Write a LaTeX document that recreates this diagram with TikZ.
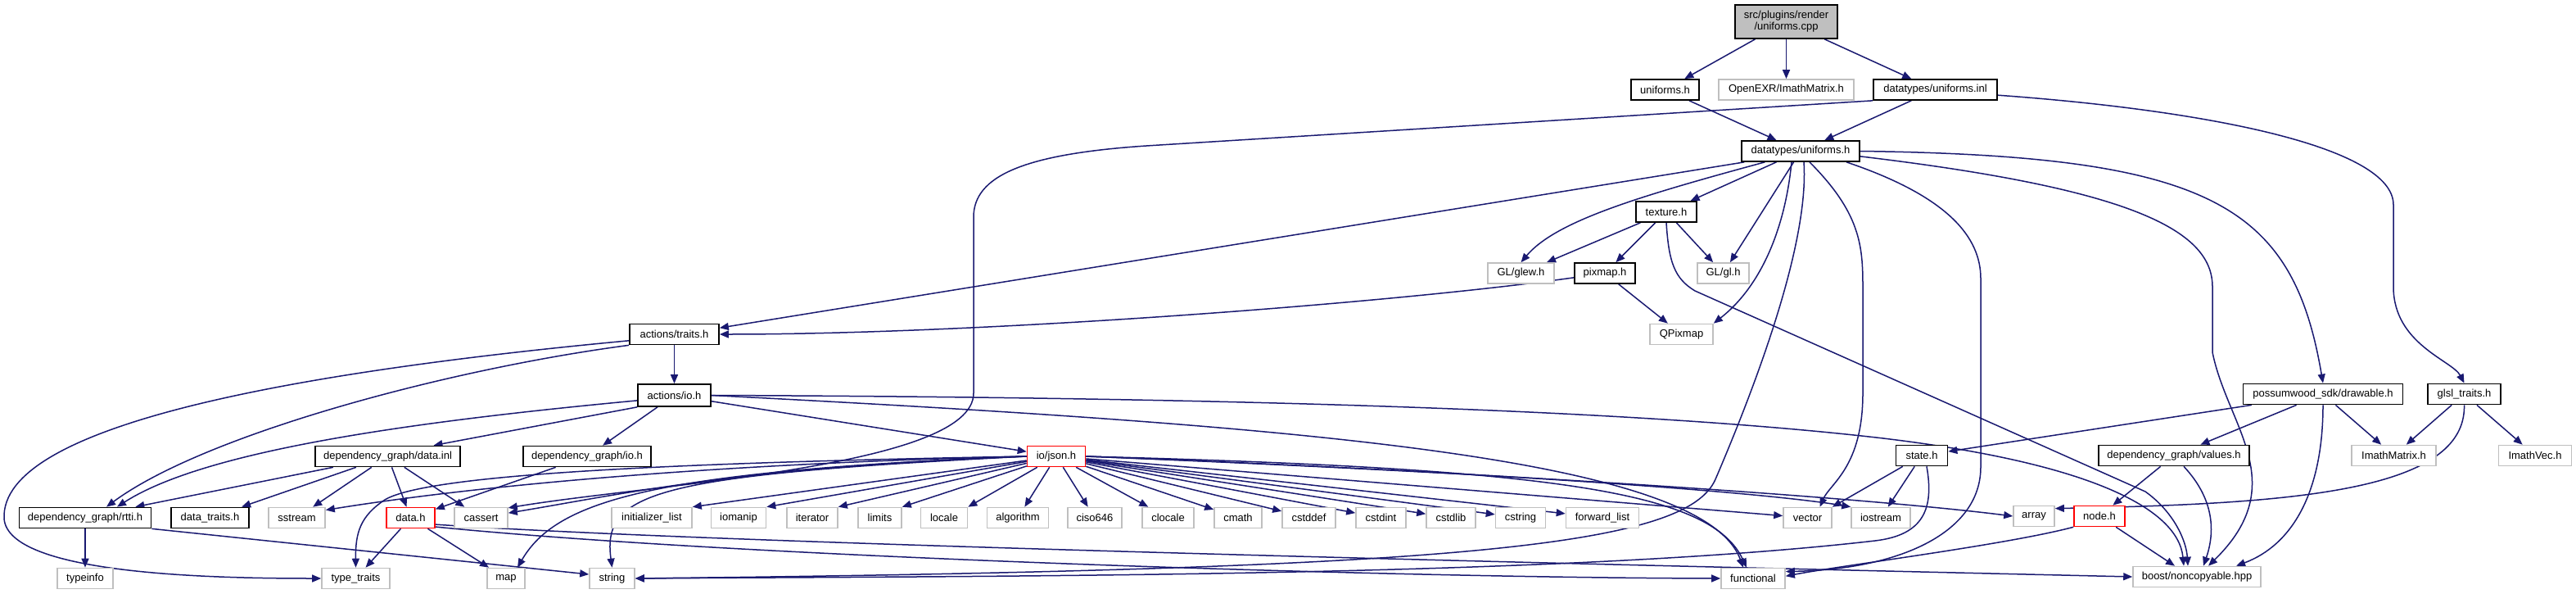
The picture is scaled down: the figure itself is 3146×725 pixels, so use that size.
\documentclass[tikz,border=0pt]{standalone}
\usepackage{fontspec}
\setmainfont{Liberation Sans}
\usetikzlibrary{arrows.meta, calc, backgrounds}
\definecolor{cedge}{HTML}{191970}
\definecolor{cgrey}{HTML}{BFBFBF}
\definecolor{cred}{HTML}{FF0000}
\tikzset{
  every picture/.style={font=\fontsize{13}{14}\selectfont, line width=1.4pt},
  file/.style={draw=#1, fill=white, line width=1.7pt, inner sep=0pt, minimum height=25pt, align=center},
  file/.default=black,
  dep/.style={-{Triangle[length=11pt, width=9pt]}, draw=cedge, line width=1.5pt},
}

\begin{document}
\begin{tikzpicture}[x=1pt, y=-1pt,
    sys/.style={file=cgrey, line width=1.6pt},
    trunc/.style={file=cred, line width=1.6pt}]
  \useasboundingbox (0,0) rectangle (3146,725);

  % ---- top of the graph
  \node[file, fill=cgrey, minimum width=125, minimum height=41] (root) at (2181.5,26.5) {src/plugins/render\\/uniforms.cpp};
  \node[file, minimum width=83] (uh) at (2033.5,109.5) {uniforms.h};
  \node[sys, minimum width=165] (imx) at (2181.5,109.5) {OpenEXR/ImathMatrix.h};
  \node[file, minimum width=151] (uinl) at (2363.5,109.5) {datatypes/uniforms.inl};
  \node[file, minimum width=144] (duh) at (2199,184.5) {datatypes/uniforms.h};
  \node[file, minimum width=74] (tex) at (2035,258.5) {texture.h};
  \node[sys, minimum width=81] (glew) at (1857.5,333.5) {GL/glew.h};
  \node[file, minimum width=74] (pixmap) at (1960,333.5) {pixmap.h};
  \node[sys, minimum width=63] (gl) at (2104.5,333.5) {GL/gl.h};
  \node[file, minimum width=109] (traits) at (823.5,408) {actions/traits.h};
  \node[sys, minimum width=77] (qpixmap) at (2053.5,408) {QPixmap};
  \node[file, minimum width=89, minimum height=27] (aio) at (823.5,482.5) {actions/io.h};
  \node[file, minimum width=195] (drawable) at (2837,481) {possumwood\_sdk/drawable.h};
  \node[file, minimum width=89] (glsl) at (3009.5,481) {glsl\_traits.h};

  % ---- middle row
  \node[file, minimum width=177] (datainl) at (473.5,557) {dependency\_graph/data.inl};
  \node[file, minimum width=156] (dgio) at (717,557) {dependency\_graph/io.h};
  \node[trunc, minimum width=71] (json) at (1290,557) {io/json.h};
  \node[file, minimum width=63] (state) at (2347,556) {state.h};
  \node[file, minimum width=184] (values) at (2655,556) {dependency\_graph/values.h};
  \node[sys, minimum width=103] (imathm) at (2923.5,556) {ImathMatrix.h};
  \node[sys, minimum width=89] (imathv) at (3096,556) {ImathVec.h};

  % ---- headers
  \node[file, minimum width=161] (rtti) at (104,632) {dependency\_graph/rtti.h};
  \node[file, minimum width=95] (dtraits) at (256.5,632) {data\_traits.h};
  \node[trunc, minimum width=59] (datah) at (501.5,632) {data.h};
  \node[trunc, minimum width=62] (nodeh) at (2564,630) {node.h};
  \node[sys, minimum width=50] (array) at (2484,630) {array};
  \foreach \n/\x/\w/\t in {sstream/362.5/69/sstream, cassert/587.5/65/cassert,
      initlist/796/98/{initializer\_list}, iomanip/902/67/iomanip, iterator/992/62/iterator,
      limits/1074.5/53/limits, locale/1153/57/locale, algorithm/1243/75/algorithm,
      ciso646/1337/66/ciso646, clocale/1426.5/63/clocale, cmath/1512/58/cmath,
      cstddef/1598.5/65/cstddef, cstdint/1686.5/61/cstdint, cstdlib/1772/60/cstdlib,
      cstring/1857/61/cstring, fwdlist/1957/89/{forward\_list}, vector/2207.5/59/vector,
      iostream/2297/72/iostream}
    { \node[sys, minimum width=\w] (\n) at (\x,632) {\t}; }
  \foreach \n/\x/\w/\t in {typeinfo/104/68/typeinfo, typetraits/434.5/83/{type\_traits},
      map/618/46/map, string/747.5/55/string, functional/2141/78/functional}
    { \node[sys, minimum width=\w] (\n) at (\x,706) {\t}; }
  \node[sys, minimum width=156] (boost) at (2683,704) {boost/noncopyable.hpp};

  \begin{scope}[on background layer]
  % ---- edges from the top files
  \draw[dep] (root) -- (uh);
  \draw[dep] (root) -- (imx);
  \draw[dep] (root) -- (uinl);
  \draw[dep] (uh) -- (duh);
  \draw[dep] (uinl) -- (duh);
  \draw[dep] (uinl.south west) -- (1400,178) .. controls (1250,188) and (1189,215) .. (1189,265)
    -- (1189,480) .. controls (1189,570) and (800,590) .. (cassert.20);
  \draw[dep] (uinl.-5) .. controls (2700,135) and (2923,180) .. (2923,250)
    -- (2923,350) .. controls (2923,420) and (2995,440) .. (glsl.north);

  % ---- datatypes/uniforms.h
  \draw[dep] (duh.191) -- (traits.8);
  \draw[dep] (duh.197) .. controls (2000,240) and (1900,270) .. (glew.north);
  \draw[dep] (duh) -- (tex);
  \draw[dep] (duh) -- (gl);
  \draw[dep] ([xshift=-11]duh.south) .. controls (2180,280) and (2150,350) .. (qpixmap.north east);
  \draw[dep] ([xshift=11]duh.south) .. controls (2272,260) and (2275,300) .. (2275,350)
    -- (2275,480) .. controls (2275,570) and (2235,590) .. ([xshift=15]vector.north);
  \draw[dep] ([xshift=4]duh.south) .. controls (2210,300) and (2140,480) .. (2095,585)
    .. controls (2060,665) and (1800,695) .. (string.east);
  \draw[dep] ([xshift=56]duh.south) .. controls (2380,240) and (2419,290) .. (2419,340)
    -- (2419,570) .. controls (2419,650) and (2320,695) .. (functional.12);
  \draw[dep] (duh.east) .. controls (2700,190) and (2800,250) .. (drawable.north);
  \draw[dep] (duh.-5) .. controls (2600,230) and (2702,280) .. (2702,350)
    -- (2702,430) .. controls (2720,520) and (2800,590) .. ([xshift=14]boost.north);

  % ---- texture.h, pixmap.h
  \draw[dep] (tex) -- (glew);
  \draw[dep] (tex) -- (pixmap);
  \draw[dep] (tex) -- (gl);
  \draw[dep] (tex.south) .. controls (2038,320) and (2045,340) .. (2070,355)
    -- (2620,600) .. controls (2655,625) and (2670,660) .. ([xshift=-11]boost.north);
  \draw[dep] (pixmap.188) .. controls (1700,370) and (1200,408) .. (traits.east);
  \draw[dep] (pixmap) -- (qpixmap);

  % ---- actions
  \draw[dep] (traits) -- (aio);
  \draw[dep] (traits.south west) .. controls (550,450) and (250,530) .. ([xshift=26]rtti.north);
  \draw[dep] (traits.188) .. controls (350,455) and (0,520) .. (5,633)
    .. controls (10,700) and (250,706) .. (typetraits.west);
  \draw[dep] (aio.south west) -- ([xshift=56]datainl.north);
  \draw[dep] (aio) -- (dgio);
  \draw[dep] (aio.188) .. controls (500,515) and (250,550) .. ([xshift=39]rtti.north);
  \draw[dep] (aio) -- (json);
  \draw[dep] (aio.east) .. controls (1600,520) and (2080,560) .. ([xshift=-12]functional.north);
  \draw[dep] (aio.east) .. controls (1500,485) and (2000,500) .. (2300,535)
    .. controls (2550,565) and (2660,620) .. ([xshift=-16]boost.north);

  % ---- dependency_graph
  \draw[dep] (datainl) -- ([xshift=-20]rtti.north east);
  \draw[dep] (datainl) -- (dtraits);
  \draw[dep] (datainl) -- (sstream);
  \draw[dep] (datainl) -- (datah);
  \draw[dep] (datainl) -- (cassert);
  \draw[dep] (dgio) -- (datah);
  \draw[dep] (datah) -- (typetraits);
  \draw[dep] (datah) -- (map);
  \draw[dep] (datah.-20) .. controls (900,680) and (1700,705) .. (functional.west);
  \draw[dep] (datah.-15) .. controls (900,665) and (2000,690) .. (boost.west);
  \draw[dep] (rtti) -- (typeinfo);
  \draw[dep] (rtti.south east) -- (string.170);

  % ---- io/json.h
  \draw[dep] (json.west) .. controls (900,565) and (600,590) .. (sstream.15);
  \draw[dep] (json.west) .. controls (900,570) and (750,605) .. (cassert.10);
  \draw[dep] (json.west) .. controls (800,565) and (520,580) .. (470,610)
    .. controls (440,630) and (434,650) .. (typetraits.north);
  \draw[dep] (json.west) .. controls (800,575) and (680,610) .. ([xshift=14]map.north);
  \draw[dep] (json.west) .. controls (800,580) and (735,600) .. (string.north);
  \foreach \n in {initlist, iomanip, iterator, limits, locale}
    { \draw[dep] (json) -- (\n.north east); }
  \foreach \n in {algorithm, ciso646, clocale, cmath, cstddef, cstdint, cstdlib, cstring, fwdlist, vector}
    { \draw[dep] (json) -- (\n); }
  \draw[dep] (json.east) .. controls (1800,575) and (2150,600) .. (iostream.north west);
  \draw[dep] (json.east) .. controls (1900,580) and (2300,610) .. (array.west);
  \draw[dep] (json.east) .. controls (1900,572) and (2090,600) .. ([xshift=-8]functional.north);

  % ---- possumwood_sdk, glsl_traits, state
  \draw[dep] (drawable) -- (state);
  \draw[dep] (drawable) -- (values);
  \draw[dep] (drawable) -- (imathm);
  \draw[dep] (drawable.south) .. controls (2837,600) and (2800,665) .. ([xshift=48]boost.north);
  \draw[dep] (glsl) -- (imathm);
  \draw[dep] (glsl) -- (imathv);
  \draw[dep] (glsl.south) .. controls (3012,600) and (2800,615) .. (array.20);
  \draw[dep] (values) -- (nodeh);
  \draw[dep] ([xshift=12]values.south) .. controls (2705,610) and (2705,650) .. ([xshift=8]boost.north);
  \draw[dep] (nodeh) -- ([xshift=-27]boost.north);
  \draw[dep] (nodeh.south west) .. controls (2450,665) and (2250,690) .. (functional.4);
  \draw[dep] (state) -- (vector.north east);
  \draw[dep] (state) -- (iostream);
  \draw[dep] ([xshift=6]state.south) .. controls (2362,620) and (2350,653) .. (2290,660)
    .. controls (1900,705) and (1200,703) .. (string.east);
  \end{scope}
\end{tikzpicture}
\end{document}
